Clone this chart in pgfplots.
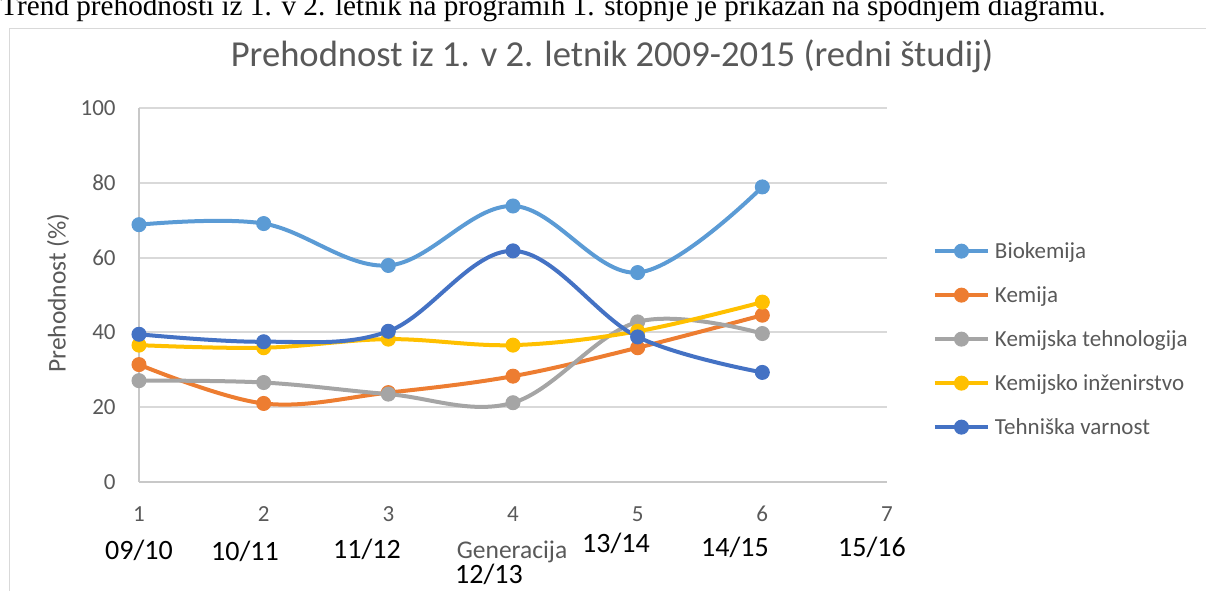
\documentclass[border=0pt]{standalone}
\usepackage{fontspec}
\setmainfont{Carlito}
\newfontfamily\timesfont{Liberation Serif}
\usepackage{pgfplots}
\pgfplotsset{compat=1.18}
\definecolor{cBio}{HTML}{5B9BD5}
\definecolor{cKem}{HTML}{ED7D31}
\definecolor{cKT}{HTML}{A5A5A5}
\definecolor{cKI}{HTML}{FFC000}
\definecolor{cTV}{HTML}{4472C4}
\definecolor{tickgray}{HTML}{595959}
\definecolor{gridgray}{HTML}{D9D9D9}
\definecolor{axisgray}{HTML}{C8C8C8}
\begin{document}
\begin{tikzpicture}
\useasboundingbox (0pt,0pt) rectangle (603pt,-295pt);
\begin{scope}[x=0.5pt,y=-0.5pt]
\clip (0,0) rectangle (1206,590);
\node[anchor=base west, inner sep=0pt, font=\timesfont\fontsize{14.6pt}{17pt}\selectfont] at (0,15) {Trend prehodnosti iz 1. v 2. letnik na programih 1. stopnje je prikazan na spodnjem diagramu.};
\draw[gridgray, line width=0.6pt] (9.5,600) -- (9.5,28.5) -- (1210,28.5);
\node[font=\fontsize{18.3pt}{21pt}\selectfont, text=tickgray, anchor=base, inner sep=0pt] at (612,66) {Prehodnost iz 1. v 2. letnik 2009-2015 (redni študij)};
\begin{scope}[every node/.style={font=\fontsize{14pt}{16pt}\selectfont, text=black, inner sep=0pt}]
\node at (139,550) {09/10};
\node at (245,551) {10/11};
\node at (367,549) {11/12};
\node at (489,574) {12/13};
\node at (616,543) {13/14};
\node at (735,547) {14/15};
\node at (872,547) {15/16};
\end{scope}
\end{scope}
\begin{axis}[
  at={(69.5pt,-241pt)}, anchor=south west,
  width=374pt, height=187pt, scale only axis,
  xmin=1, xmax=7, ymin=0, ymax=100,
  xtick={1,2,3,4,5,6,7}, ytick={0,20,40,60,80,100},
  axis lines=left, axis line style={-, axisgray, line width=1pt},
  major tick length=0pt,
  ymajorgrids, grid style={gridgray, line width=1pt},
  /pgf/number format/assume math mode=true,
  ticklabel style={font=\fontsize{11.5pt}{13pt}\selectfont, text=tickgray, inner sep=0pt},
  xticklabel style={yshift=-12pt},
  yticklabel style={xshift=-11.5pt},
  xlabel={Generacija},
  xlabel style={at={(axis description cs:0.4987,-0.187)}, anchor=center, font=\fontsize{12.75pt}{15pt}\selectfont, text=tickgray, inner sep=0pt},
  ylabel={Prehodnost (\%)},
  ylabel style={at={(axis description cs:-0.1083,0.505)}, anchor=center, font=\fontsize{12.75pt}{15pt}\selectfont, text=tickgray, inner sep=0pt},
  legend style={at={(axis description cs:1.0615,0.382)}, anchor=west, draw=none, fill=none, inner sep=0pt, outer sep=0pt,
    font=\fontsize{11.5pt}{13pt}\selectfont, text=tickgray, row sep=10.4pt, column sep=2.5pt,
    nodes={inner sep=0pt, text height=9.5pt, text depth=2.1pt}},
  legend cell align=left,
  legend image code/.code={\draw[mark repeat=2,mark phase=2] plot coordinates {(0pt,0pt) (13.25pt,0pt) (26.5pt,0pt)};},
  every axis plot/.append style={line width=2pt, mark=*, mark size=3.5pt, smooth, tension=0.6},
  clip=false,
]
\addplot[color=cBio, mark options={solid, line width=0.5pt, fill=cBio}] coordinates {(1,68.8) (2,69.1) (3,57.9) (4,73.8) (5,56.0) (6,78.9)};
\addlegendentry{Biokemija}
\addplot[color=cKem, mark options={solid, line width=0.5pt, fill=cKem}] coordinates {(1,31.4) (2,21.0) (3,23.9) (4,28.3) (5,35.9) (6,44.6)};
\addlegendentry{Kemija}
\addplot[color=cKT, mark options={solid, line width=0.5pt, fill=cKT}] coordinates {(1,27.1) (2,26.6) (3,23.5) (4,21.2) (5,42.8) (6,39.7)};
\addlegendentry{Kemijska tehnologija}
\addplot[color=cKI, mark options={solid, line width=0.5pt, fill=cKI}] coordinates {(1,36.6) (2,35.9) (3,38.2) (4,36.6) (5,40.3) (6,48.1)};
\addlegendentry{Kemijsko inženirstvo}
\addplot[color=cTV, mark options={solid, line width=0.5pt, fill=cTV}] coordinates {(1,39.5) (2,37.5) (3,40.3) (4,61.8) (5,38.8) (6,29.3)};
\addlegendentry{Tehniška varnost}
\end{axis}
\end{tikzpicture}
\end{document}
